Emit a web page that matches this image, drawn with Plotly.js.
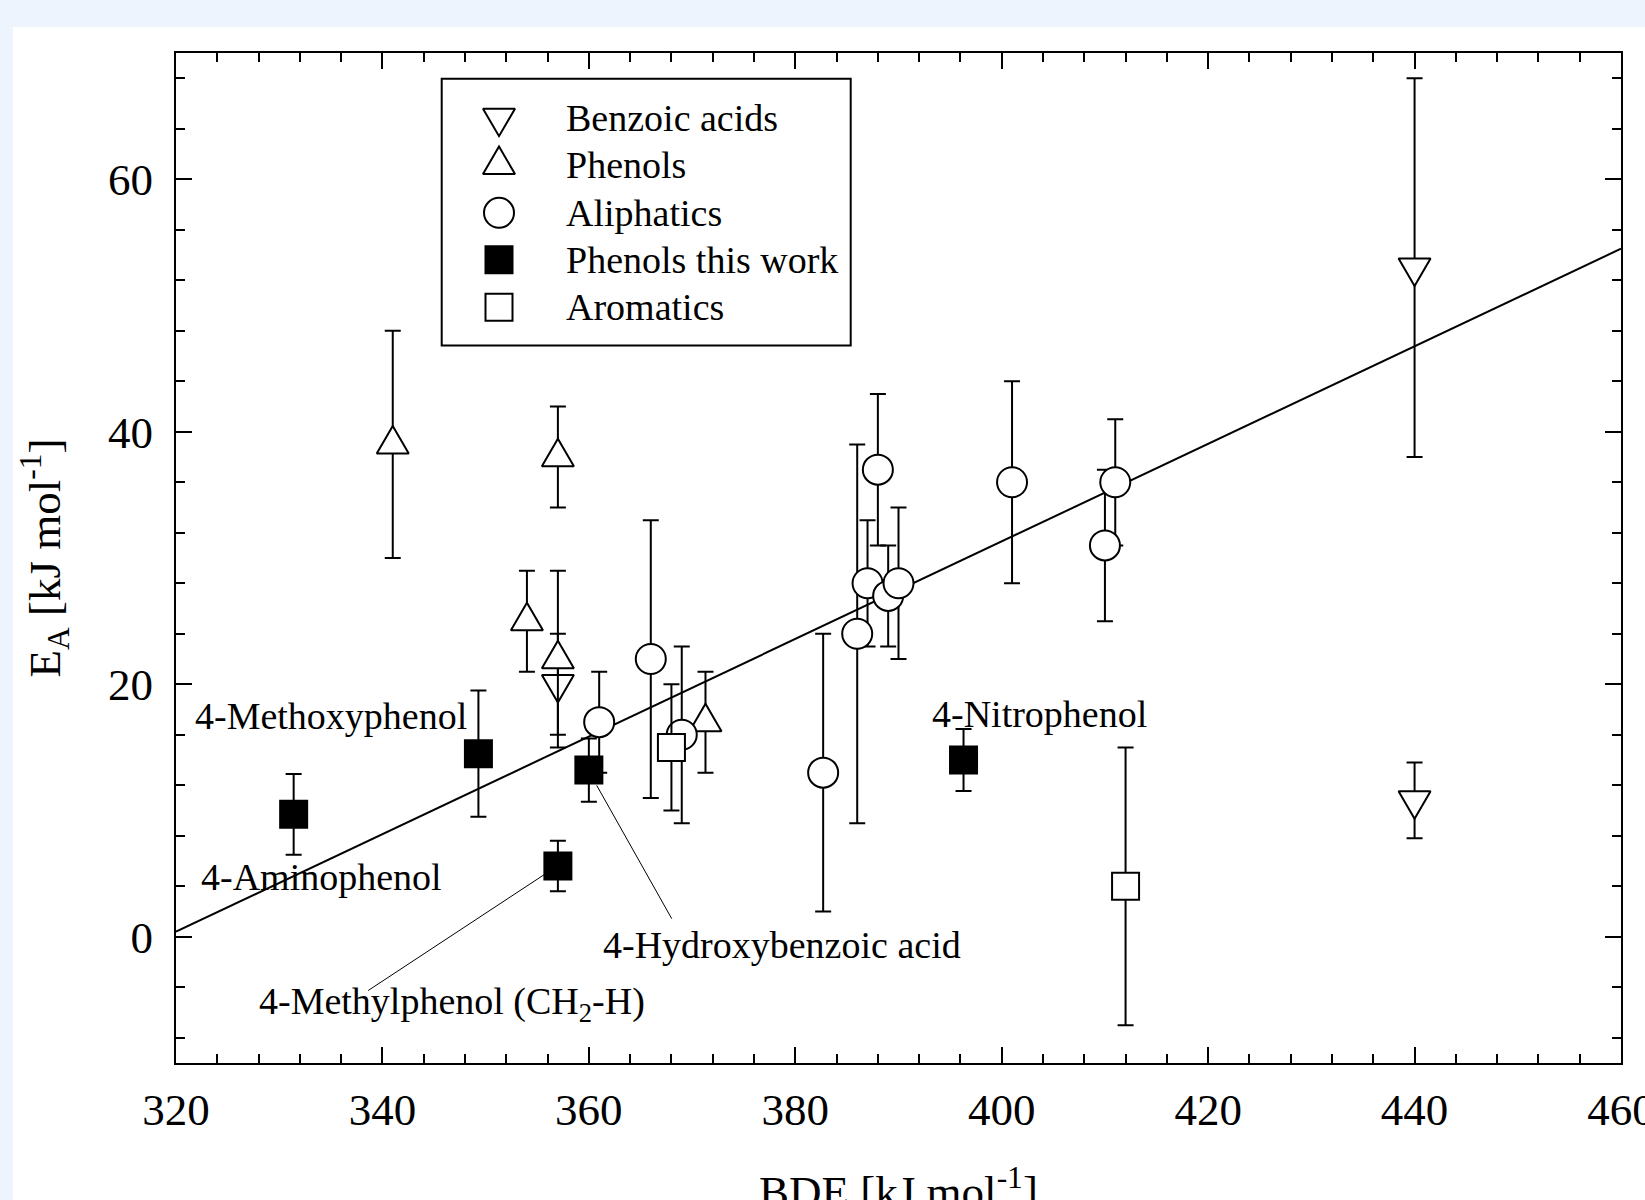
<!DOCTYPE html>
<html><head><meta charset="utf-8">
<script src="https://cdn.plot.ly/plotly-3.0.1.min.js"></script>
<style>
html,body{margin:0;padding:0;background:#EDF4FD;width:1645px;height:1200px;overflow:hidden;}
#chart{position:absolute;left:13px;top:27px;width:1632px;height:1213px;background:#fff;}
</style></head><body><div id="chart"></div>
<script>
// ---- data ----
const benzoicX = [440, 440, 357];
const benzoicY = [53, 10.8, 20];
const benzoicErr = [15, 3, 4];

const phenolsX = [341, 357, 354, 357, 371.3];
const phenolsY = [39, 38, 25, 22, 17];
const phenolsErr = [9, 4, 4, 7, 4];

const aliphaticX = [361, 366, 369, 382.7, 386, 387, 388, 389, 390, 401, 410, 411];
const aliphaticY = [17, 22, 16, 13, 24, 28, 37, 27, 28, 36, 31, 36];
const aliphaticErr = [4, 11, 7, 11, 15, 5, 6, 4, 6, 8, 6, 5];

const thisWorkX = [331.4, 349.3, 357, 360, 396.3];
const thisWorkY = [9.7, 14.5, 5.6, 13.2, 14];
const thisWorkErr = [3.2, 5, 2, 2.5, 2.45];

const aromaticX = [368, 412];
const aromaticY = [15, 4];
const aromaticErr = [5, 11];

const fitX = [320, 460];
const fitY = [0.4, 54.5];

const seriesNames = ['Benzoic acids', 'Phenols', 'Aliphatics', 'Phenols this work', 'Aromatics'];
const compoundLabels = ['4-Methoxyphenol', '4-Aminophenol', '4-Methylphenol (CH<sub>2</sub>-H)', '4-Hydroxybenzoic acid', '4-Nitrophenol'];

const xTitle = 'BDE [kJ mol<sup>-1</sup>]';
const yTitle = 'E<sub>A</sub> [kJ mol<sup>-1</sup>]';

// ---- styling ----
const FONT = 'Liberation Serif, Times New Roman, serif';
const symbols = ['triangle-down', 'triangle-up', 'circle', 'square', 'square'];
const sizes = [29, 29, 30, 27, 27];
const fills = ['#ffffff', '#ffffff', '#ffffff', '#000000', '#ffffff'];

function markerStyle(i) {
  return {symbol: symbols[i], size: sizes[i], color: fills[i], opacity: 1,
          line: {color: '#000000', width: 2}};
}

function errTrace(x, y, err, i) {
  return {
    type: 'scatter', mode: 'markers', x: x, y: y, name: seriesNames[i],
    showlegend: false, marker: markerStyle(i),
    error_y: {type: 'data', array: err, visible: true, color: '#000000', thickness: 2, width: 8},
    hoverinfo: 'skip'
  };
}

const traces = [
  {type: 'scatter', mode: 'lines', x: fitX, y: fitY, line: {color: '#000000', width: 2}, showlegend: false, hoverinfo: 'skip'},
  errTrace(benzoicX, benzoicY, benzoicErr, 0),
  errTrace(phenolsX, phenolsY, phenolsErr, 1),
  errTrace(aliphaticX, aliphaticY, aliphaticErr, 2),
  errTrace(thisWorkX, thisWorkY, thisWorkErr, 3),
  errTrace(aromaticX, aromaticY, aromaticErr, 4)
];

// custom legend on an overlay pixel axis (x2/y2: px from plot top-left)
const legendSymX = 323, legendTextX = 388;
const legendRowY = [64.8, 111.8, 159.8, 206.8, 254.3];
seriesNames.forEach((n, i) => traces.push({
  type: 'scatter', mode: 'markers', xaxis: 'x2', yaxis: 'y2', showlegend: false, hoverinfo: 'skip',
  x: [legendSymX], y: [legendRowY[i]], marker: markerStyle(i)
}));

const annotations = [];
seriesNames.forEach((n, i) => annotations.push({
  xref: 'x2', yref: 'y2', x: legendTextX, y: legendRowY[i], text: n, showarrow: false,
  xanchor: 'left', yanchor: 'middle', font: {family: FONT, size: 38, color: '#000000'}
}));

const labelPos = [[334.97, 17.46], [334.1, 4.7], [346.74, -5.29], [378.7, -0.69], [403.7, 17.62]];
compoundLabels.forEach((t, i) => annotations.push({
  xref: 'x', yref: 'y', x: labelPos[i][0], y: labelPos[i][1], text: t, showarrow: false,
  xanchor: 'center', yanchor: 'middle', font: {family: FONT, size: 38, color: '#000000'}
}));

const shapes = [
  {type: 'rect', xref: 'x2', yref: 'y2', x0: 265.7, x1: 674.7, y0: 25.8, y1: 292.5,
   line: {color: '#000000', width: 2}, fillcolor: 'rgba(0,0,0,0)', layer: 'above'},
  {type: 'line', xref: 'x', yref: 'y', x0: 338.62, y0: -4.26, x1: 355.71, y1: 4.94, line: {color: '#000000', width: 1}},
  {type: 'line', xref: 'x', yref: 'y', x0: 368.03, y0: 1.43, x1: 360.76, y1: 11.99, line: {color: '#000000', width: 1}}
];

const axisCommon = {
  showline: true, linecolor: '#000000', linewidth: 2, mirror: 'ticks',
  ticks: 'inside', ticklen: 16, tickwidth: 2, tickcolor: '#000000',
  showgrid: false, zeroline: false, automargin: false, ticklabeloverflow: 'allow',
  tickfont: {family: FONT, size: 45, color: '#000000'},
  minor: {ticks: 'inside', ticklen: 9, tickwidth: 2, tickcolor: '#000000', dtick: 4, showgrid: false}
};

const layout = {
  width: 1632, height: 1213,
  margin: {l: 163, r: 24, t: 26, b: 177, pad: 0},
  paper_bgcolor: '#ffffff', plot_bgcolor: '#ffffff',
  showlegend: false,
  xaxis: Object.assign({}, axisCommon, {range: [320, 460], tick0: 320, dtick: 20,
    ticklabelstandoff: 6,
    title: {text: xTitle, font: {family: FONT, size: 45, color: '#000000'}, standoff: 41}}),
  yaxis: Object.assign({}, axisCommon, {range: [-10, 70], tick0: 0, dtick: 20,
    ticklabelstandoff: 12,
    title: {text: yTitle, font: {family: FONT, size: 45, color: '#000000'}, standoff: 34}}),
  xaxis2: {overlaying: 'x', range: [0, 1445], visible: false, fixedrange: true},
  yaxis2: {overlaying: 'y', range: [1010, 0], visible: false, fixedrange: true},
  annotations: annotations,
  shapes: shapes,
  font: {family: FONT, color: '#000000'}
};

// reshape Plotly's triangle glyphs into equilateral ones (same centre, same trace positions)
function equilateral() {
  const W = 16, H = 27.5, top = (2 * H / 3).toFixed(2), bot = (H / 3).toFixed(2);
  document.querySelectorAll('#chart path.point').forEach(p => {
    const d = p.getAttribute('d') || '';
    if (/^M-[\d.]+,[\d.]+H[\d.]+L0,-[\d.]+Z$/.test(d)) {
      p.setAttribute('d', 'M-' + W + ',' + bot + 'H' + W + 'L0,-' + top + 'Z');
    } else if (/^M-[\d.]+,-[\d.]+H[\d.]+L0,[\d.]+Z$/.test(d)) {
      p.setAttribute('d', 'M-' + W + ',-' + bot + 'H' + W + 'L0,' + top + 'Z');
    }
  });
}

Plotly.newPlot('chart', traces, layout, {displayModeBar: false, staticPlot: true}).then(equilateral);
</script></body></html>
